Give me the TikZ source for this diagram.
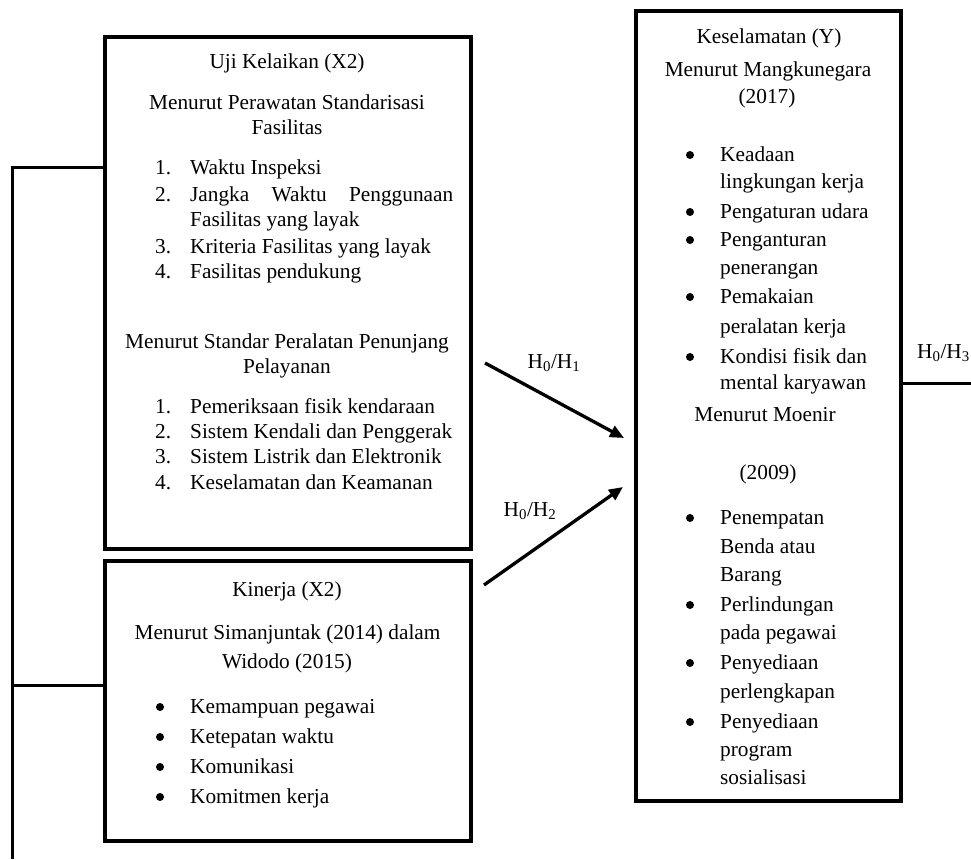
\documentclass[tikz,border=0pt]{standalone}
\usepackage{fontspec}
\setmainfont{Liberation Serif}
\usetikzlibrary{arrows.meta}
\begin{document}
\begin{tikzpicture}[x=1pt,y=-1pt,
  box/.style={draw=black,line width=4pt,inner sep=0pt},
  ln/.style={draw=black,line width=3.8pt,line join=miter},
  arr/.style={draw=black,line width=3.3pt,-{Triangle[length=14pt,width=12pt]}},
  ctr/.style={font=\fontsize{21.3pt}{26pt}\selectfont,inner sep=0pt,anchor=mid,yshift=-4.5pt},
  lft/.style={font=\fontsize{21.3pt}{26pt}\selectfont,inner sep=0pt,anchor=mid west,yshift=-4.5pt},
  rgt/.style={font=\fontsize{21.3pt}{26pt}\selectfont,inner sep=0pt,anchor=mid east,yshift=-4.5pt},
  bul/.style={circle,fill=black,inner sep=0pt,minimum size=8pt}]
\useasboundingbox (0,0) rectangle (971,859);
% boxes
\node[box,minimum width=366.5pt,minimum height=511.5pt] (b1) at (287.75,292.75) {};
\node[box,minimum width=366.5pt,minimum height=279.5pt] (b2) at (287.75,700.75) {};
\node[box,minimum width=265pt,minimum height=789.5pt] (by) at (768,405.75) {};
% bracket on the left
\coordinate (bt) at (12.5,167.5);
\coordinate (bb) at (12.5,859);
\coordinate (bm) at (12.5,685.5);
\draw[ln] (b1.west |- bt) -- (bt) -- (bb);
\draw[ln] (bm) -- (b2.west |- bm);
% line on the right
\coordinate (h3e) at (971,383.5);
\draw[ln] (by.east |- h3e) -- (h3e);
\node[rgt] (h3) at (970,352) {H\textsubscript{0}/H\textsubscript{3}};
% arrows
\coordinate (a1s) at (485,363);
\coordinate (a1e) at (624,438);
\coordinate (a2s) at (484,585);
\coordinate (a2e) at (623,487);
\draw[arr] (a1s) -- (a1e);
\draw[arr] (a2s) -- (a2e);
\node[ctr] (h1) at (554,362) {H\textsubscript{0}/H\textsubscript{1}};
\node[ctr] (h2) at (530,510) {H\textsubscript{0}/H\textsubscript{2}};
% box 1 text
\node[ctr] (u1) at (287,62) {Uji Kelaikan (X2)};
\node[ctr] (u2) at (287,103) {Menurut Perawatan Standarisasi};
\node[ctr] (u3) at (287,128) {Fasilitas};
\node[lft] (n1) at (155,168) {1.};
\node[lft] (n1t) at (190,168) {Waktu Inspeksi};
\node[lft] (n2) at (155,195) {2.};
\node[lft] (n2t) at (190,195) {\makebox[263pt][s]{Jangka Waktu Penggunaan}};
\node[lft] (n2u) at (190,220) {Fasilitas yang layak};
\node[lft] (n3) at (155,247) {3.};
\node[lft] (n3t) at (190,247) {Kriteria Fasilitas yang layak};
\node[lft] (n4) at (155,272) {4.};
\node[lft] (n4t) at (190,272) {Fasilitas pendukung};
\node[ctr] (u4) at (287,342) {Menurut Standar Peralatan Penunjang};
\node[ctr] (u5) at (287,367) {Pelayanan};
\node[lft] (m1) at (155,407) {1.};
\node[lft] (m1t) at (190,407) {Pemeriksaan fisik kendaraan};
\node[lft] (m2) at (155,432) {2.};
\node[lft] (m2t) at (190,432) {Sistem Kendali dan Penggerak};
\node[lft] (m3) at (155,457) {3.};
\node[lft] (m3t) at (190,457) {Sistem Listrik dan Elektronik};
\node[lft] (m4) at (155,483) {4.};
\node[lft] (m4t) at (190,483) {Keselamatan dan Keamanan};
% box 2 text
\node[ctr] (k1) at (287,590) {Kinerja (X2)};
\node[ctr] (k2) at (287.5,633) {Menurut Simanjuntak (2014) dalam};
\node[ctr] (k3) at (287,662) {Widodo (2015)};
\node[bul] (p1) at (160,707) {};
\node[lft] (p1t) at (190,707) {Kemampuan pegawai};
\node[bul] (p2) at (160,737) {};
\node[lft] (p2t) at (190,737) {Ketepatan waktu};
\node[bul] (p3) at (160,767) {};
\node[lft] (p3t) at (190,767) {Komunikasi};
\node[bul] (p4) at (160,797) {};
\node[lft] (p4t) at (190,797) {Komitmen kerja};
% right box text
\node[ctr] (y1) at (769,37) {Keselamatan (Y)};
\node[ctr] (y2) at (768,70) {Menurut Mangkunegara};
\node[ctr] (y3) at (767,97) {(2017)};
\node[bul] (q1) at (690,155) {};
\node[lft] (q1t) at (720,155) {Keadaan};
\node[lft] (q1u) at (720,182) {lingkungan kerja};
\node[bul] (q2) at (690,212) {};
\node[lft] (q2t) at (720,212) {Pengaturan udara};
\node[bul] (q3) at (690,240) {};
\node[lft] (q3t) at (720,240) {Penganturan};
\node[lft] (q3u) at (720,268) {penerangan};
\node[bul] (q4) at (690,297) {};
\node[lft] (q4t) at (720,297) {Pemakaian};
\node[lft] (q4u) at (720,327) {peralatan kerja};
\node[bul] (q5) at (690,357) {};
\node[lft] (q5t) at (720,357) {Kondisi fisik dan};
\node[lft] (q5u) at (720,383) {mental karyawan};
\node[ctr] (y4) at (765,415) {Menurut Moenir};
\node[ctr] (y5) at (768,473) {(2009)};
\node[bul] (r1) at (690,518) {};
\node[lft] (r1t) at (720,518) {Penempatan};
\node[lft] (r1u) at (720,547) {Benda atau};
\node[lft] (r1v) at (720,575) {Barang};
\node[bul] (r2) at (690,605) {};
\node[lft] (r2t) at (720,605) {Perlindungan};
\node[lft] (r2u) at (720,633) {pada pegawai};
\node[bul] (r3) at (690,663) {};
\node[lft] (r3t) at (720,663) {Penyediaan};
\node[lft] (r3u) at (720,692) {perlengkapan};
\node[bul] (r4) at (690,722) {};
\node[lft] (r4t) at (720,722) {Penyediaan};
\node[lft] (r4u) at (720,750) {program};
\node[lft] (r4v) at (720,778) {sosialisasi};
\end{tikzpicture}
\end{document}
